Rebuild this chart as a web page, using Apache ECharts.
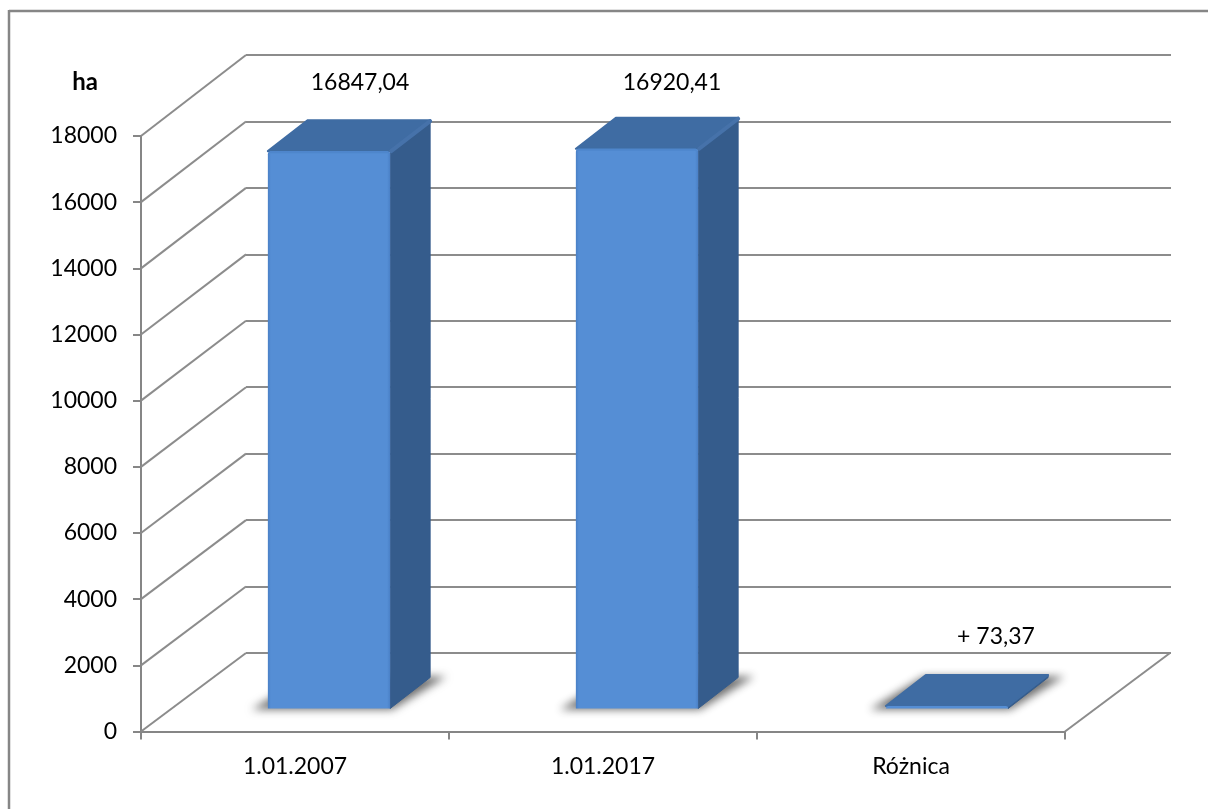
<!DOCTYPE html>
<html>
<head>
<meta charset="utf-8">
<style>html,body{margin:0;padding:0;background:#fff}#c{width:1208px;height:809px}</style>
<script src="https://cdn.jsdelivr.net/npm/echarts@6/dist/echarts.min.js"></script>
</head>
<body>
<div id="c"></div>
<script>
const categories = ['1.01.2007', '1.01.2017', 'Różnica'];
const values = [16847.04, 16920.41, 73.37];
const valueLabels = ['16847,04', '16920,41', '+ 73,37'];
const yTicks = [0, 2000, 4000, 6000, 8000, 10000, 12000, 14000, 16000, 18000];
const yUnit = 'ha';

const FONT = 'Lato';
const FS = 23;
const GRID_C = '#8c8c8c';
const AXIS_C = '#868686';
const chart = echarts.init(document.getElementById('c'), null, { renderer: 'canvas' });

function renderWalls(params, api) {
  const v = api.value(1);
  const p = api.coord([0, v]);
  const cs = params.coordSys;
  const x0 = cs.x, y = p[1];
  const dy = 78.5 + 2.5 * v / 18000;
  const ls = { stroke: GRID_C, lineWidth: 2, fill: null };
  const children = [{ type: 'line', shape: { x1: x0, y1: y, x2: x0 + 105, y2: y - dy }, style: ls }];
  if (v === 0) {
    children.push({ type: 'line', shape: { x1: x0 + cs.width, y1: y, x2: x0 + cs.width + 105, y2: y - dy }, style: ls });
  }
  return { type: 'group', children };
}

function renderBars(params, api) {
  const cat = api.value(0), val = api.value(1);
  const base = api.coord([cat, 0]);
  const top = api.coord([cat, val]);
  const wallTop = api.coord([cat, 18000]);
  const w = api.size([1, 0])[0] * 0.397;
  const tall = val >= 1000;
  const xl = base[0] - w / 2 + (tall ? 34 : 36), xr = xl + w;
  const fy = base[1] - 23, ty = top[1] - 23;
  const dx = 40, dy = 31;
  const front = new echarts.graphic.LinearGradient(0, 0, 1, 0, [
    { offset: 0, color: '#4a80c6' }, { offset: 0.025, color: '#558ed5' },
    { offset: 0.975, color: '#558ed5' }, { offset: 1, color: '#4a80c6' }
  ]);
  const OFF = 3000;
  const shadow = {
    type: 'polygon',
    shape: { points: [[xl - 16 - OFF, fy + 1], [xr + 2 - OFF, fy + 1], [xr + dx + 16 - OFF, fy - dy - 1], [xl + dx - 2 - OFF, fy - dy - 1]] },
    style: { fill: '#000', shadowBlur: 9, shadowOffsetX: OFF, shadowColor: 'rgba(95,95,95,0.9)' }
  };
  const side = {
    type: 'polygon',
    shape: { points: [[xr, ty], [xr + dx, ty - dy], [xr + dx, fy - dy], [xr, fy]] },
    style: { fill: '#355c8c', stroke: '#355c8c', lineWidth: 1, lineJoin: 'round' }
  };
  const topFace = {
    type: 'polygon',
    shape: { points: [[xl, ty], [xl + dx, ty - dy], [xr + dx, ty - dy], [xr, ty]] },
    style: { fill: '#3f6ca3', stroke: '#3f6ca3', lineWidth: 2, lineJoin: 'round' }
  };
  const children = [shadow, side, topFace];
  if (tall) {
    children.push({
      type: 'line',
      shape: { x1: xr + 1, y1: ty, x2: xr + dx, y2: ty - dy + 1 },
      style: { stroke: '#4672aa', lineWidth: 4, lineCap: 'round' }
    });
  }
  children.push({
    type: 'rect',
    shape: { x: xl, y: ty, width: w, height: Math.max(fy - ty, 1), r: [3, 3, 0, 0] },
    style: { fill: tall ? front : '#558ed5' }
  });
  if (tall) {
    children.push({
      type: 'line',
      shape: { x1: xl + 2, y1: ty + 1, x2: xr - 2, y2: ty + 1 },
      style: { stroke: '#4e86cc', lineWidth: 2 }
    });
  }
  children.push({
    type: 'text',
    style: {
      text: valueLabels[params.dataIndex],
      x: xl + w / 2 + (tall ? (cat === 0 ? 31 : 35) : 49), y: tall ? wallTop[1] - 53 : ty - 69,
      align: 'center', verticalAlign: 'middle',
      font: FS + 'px ' + FONT, fill: '#000'
    }
  });
  return { type: 'group', children };
}

chart.setOption({
  animation: false,
  backgroundColor: '#fff',
  graphic: [
    { type: 'line', shape: { x1: 9, y1: 11, x2: 1208, y2: 11 }, style: { stroke: AXIS_C, lineWidth: 2.5 }, z: -10 },
    { type: 'line', shape: { x1: 9, y1: 10, x2: 9, y2: 809 }, style: { stroke: AXIS_C, lineWidth: 2.5 }, z: -10 }
  ],
  grid: [
    { left: 141, width: 924, top: 136, height: 595.5 },
    { left: 246, width: 925, top: 55, height: 598 }
  ],
  xAxis: [
    {
      gridIndex: 0, type: 'category', data: categories, boundaryGap: true,
      axisLine: { show: true, lineStyle: { color: AXIS_C, width: 2 } },
      axisTick: { show: true, alignWithLabel: false, length: 8, lineStyle: { color: AXIS_C, width: 2 } },
      axisLabel: { margin: 24, color: '#000', fontFamily: FONT, fontSize: FS }
    },
    { gridIndex: 1, type: 'category', data: categories, show: false }
  ],
  yAxis: [
    {
      gridIndex: 0, type: 'value', min: 0, max: 18000, interval: 2000,
      name: yUnit, nameLocation: 'end', nameGap: 42,
      nameTextStyle: { color: '#000', fontFamily: FONT, fontSize: 24, fontWeight: 'bold', align: 'right', padding: [0, 43, 0, 0] },
      axisLine: { show: true, lineStyle: { color: AXIS_C, width: 2 } },
      axisTick: { show: true, length: 8, lineStyle: { color: AXIS_C, width: 2 } },
      axisLabel: { margin: 24, color: '#000', fontFamily: FONT, fontSize: FS, formatter: v => String(v) },
      splitLine: { show: false }
    },
    {
      gridIndex: 1, type: 'value', min: 0, max: 18000, interval: 2000,
      axisLine: { show: false }, axisTick: { show: false }, axisLabel: { show: false },
      splitLine: { show: true, lineStyle: { color: GRID_C, width: 2 } }
    }
  ],
  series: [
    {
      type: 'custom', xAxisIndex: 0, yAxisIndex: 0, z: 1, clip: false, silent: true,
      data: yTicks.map(v => [0, v]),
      renderItem: renderWalls
    },
    {
      type: 'custom', xAxisIndex: 0, yAxisIndex: 0, z: 5, clip: false,
      data: values.map((v, i) => [i, v]),
      encode: { x: 0, y: 1 },
      renderItem: renderBars
    }
  ]
});
</script>
</body>
</html>
